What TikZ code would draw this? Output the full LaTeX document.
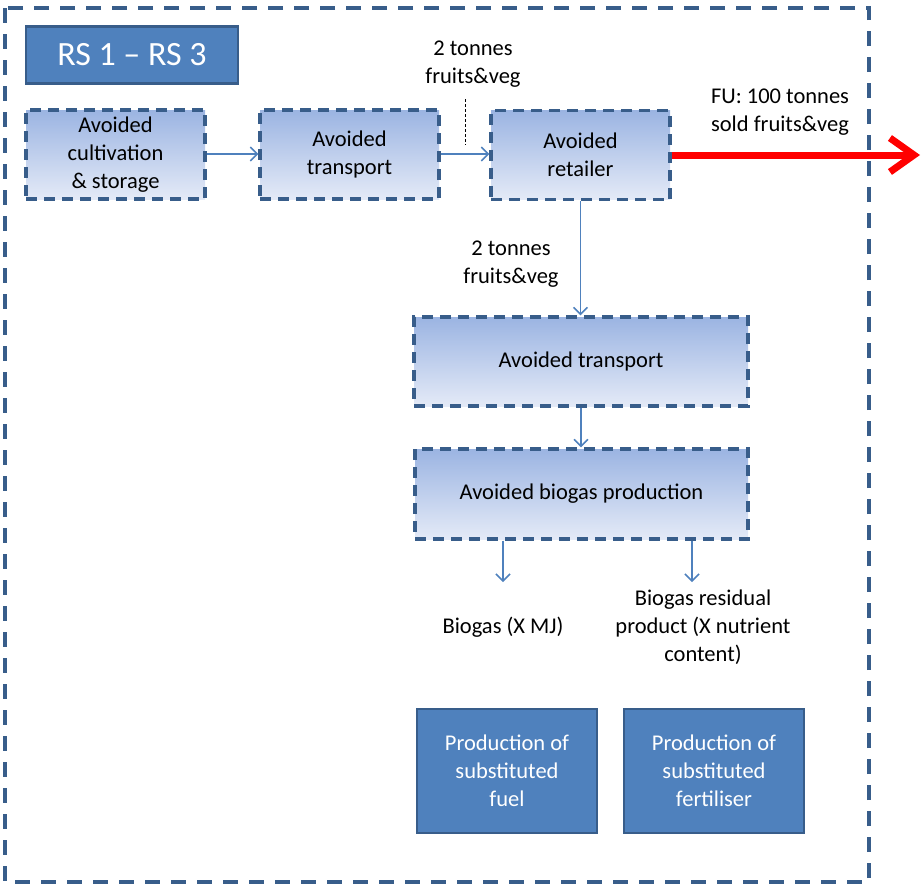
\documentclass[tikz,border=0pt]{standalone}
\usepackage{fontspec}
\setmainfont{Carlito}
\usetikzlibrary{arrows.meta}
\definecolor{frameblue}{RGB}{56,93,138}
\definecolor{solidblue}{RGB}{79,129,189}
\definecolor{gradtop}{RGB}{155,180,226}
\definecolor{gradbot}{RGB}{228,234,247}
\definecolor{arrowblue}{RGB}{79,129,189}
\tikzset{
  txt/.style={font=\fontsize{22.5}{28}\selectfont, align=center, inner sep=0pt},
  avoidbox/.style={txt, draw=frameblue, line width=3.3pt, dash pattern=on 11pt off 7pt,
     top color=gradtop, bottom color=gradbot, minimum width=179pt, minimum height=89pt},
  solidbox/.style={txt, text=white, draw=frameblue, line width=2.5pt, fill=solidblue,
     minimum width=180pt, minimum height=124pt},
  flow/.style={draw=arrowblue, line width=1.5pt, -{Straight Barb[length=7pt,width=14pt]}},
}
\begin{document}
\begin{tikzpicture}[x=1pt,y=-1pt]
\useasboundingbox (0,0) rectangle (921,884);
% outer frame
\draw[frameblue, line width=3.6pt, dash pattern=on 15pt off 11pt] (5,8) rectangle (869,882);
% title box
\node[txt, text=white, font=\fontsize{34}{40}\selectfont, draw=frameblue, line width=2.5pt, fill=solidblue,
      minimum width=212pt, minimum height=57pt] (rs) at (132,55) {RS 1 -- RS 3};
% avoided boxes
\node[avoidbox] (cult) at (115.5,154.5) {Avoided\\cultivation\\\&{} storage};
\node[avoidbox] (trans1) at (349.5,154.5) {Avoided\\transport};
\node[avoidbox] (ret) at (580.5,155) {Avoided\\retailer};
\node[avoidbox, minimum width=334pt] (trans2) at (581,361.5) {Avoided transport};
\node[avoidbox, minimum width=333pt, minimum height=90pt] (bio) at (581.5,494) {Avoided biogas production};
% solid boxes
\node[solidbox] (fuel) at (507,771) {Production of\\substituted\\fuel};
\node[solidbox] (fert) at (714,771) {Production of\\substituted\\fertiliser};
% labels
\node[txt] (lab1) at (473,64) {2 tonnes\\fruits\&veg};
\node[txt] (fu) at (780,112) {FU: 100 tonnes\\sold fruits\&veg};
\node[txt] (lab2) at (511,264) {2 tonnes\\fruits\&veg};
\node[txt] (biogas) at (503,627) {Biogas (X MJ)};
\node[txt] (resid) at (703,627) {Biogas residual\\product (X nutrient\\content)};
% coordinates
\coordinate (dtop) at (465,99);
\coordinate (dbot) at (465,145);
\coordinate (redend) at (920,155);
\coordinate (b1end) at (503,582);
\coordinate (b2end) at (692,582);
% connectors
\draw[flow] (cult.east |- 0,154) -- (trans1.west |- 0,154);
\draw[flow] (trans1.east |- 0,154) -- (ret.west |- 0,154);
\draw[black, line width=1pt, dash pattern=on 3pt off 2pt] (dtop) -- (dbot);
\draw[red, line width=7pt, -{Straight Barb[length=24pt,width=34pt]}] (ret.east) -- (redend);
\draw[flow] (ret.south) -- (trans2.north -| ret.south);
\draw[flow] (trans2.south) -- (bio.north -| trans2.south);
\draw[flow] (bio.south -| b1end) -- (b1end);
\draw[flow] (bio.south -| b2end) -- (b2end);
\end{tikzpicture}
\end{document}
